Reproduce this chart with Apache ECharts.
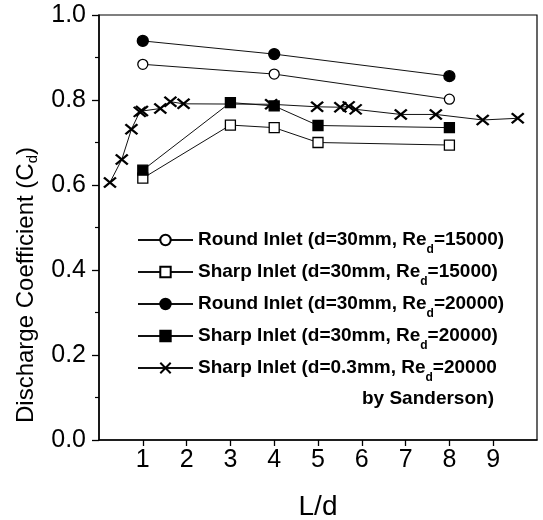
<!DOCTYPE html>
<html>
<head>
<meta charset="utf-8">
<script src="https://cdn.jsdelivr.net/npm/echarts@6/dist/echarts.min.js"></script>
<style>html,body{margin:0;padding:0;background:#fff}#c{width:543px;height:520px}</style>
</head>
<body>
<div id="c"></div>
<script>
// ---- data ----
var xRound = [1, 4, 8];
var round15000 = [0.884, 0.861, 0.802];
var round20000 = [0.939, 0.908, 0.856];
var xSharp = [1, 3, 4, 5, 8];
var sharp15000 = [0.616, 0.741, 0.735, 0.700, 0.694];
var sharp20000 = [0.635, 0.794, 0.786, 0.740, 0.735];
var xSanderson = [0.25, 0.52, 0.74, 0.93, 0.98, 1.40, 1.63, 1.93, 3.93, 4.98, 5.51, 5.70, 5.86, 6.89, 7.69, 8.76, 9.56];
var sanderson = [0.606, 0.660, 0.731, 0.772, 0.774, 0.780, 0.796, 0.791, 0.790, 0.784, 0.783, 0.785, 0.778, 0.766, 0.766, 0.753, 0.757];
var seriesNames = [
  'Round Inlet (d=30mm, Re|=15000)',
  'Sharp Inlet (d=30mm, Re|=15000)',
  'Round Inlet (d=30mm, Re|=20000)',
  'Sharp Inlet (d=30mm, Re|=20000)',
  'Sharp Inlet (d=0.3mm, Re|=20000'
];
var xTicks = [1, 2, 3, 4, 5, 6, 7, 8, 9];
var noteText = 'by Sanderson)';

function pairs(xs, ys) { return xs.map(function (x, i) { return [x, ys[i]]; }); }

var FONT = 'Liberation Sans, Arial, Helvetica, sans-serif';
var crossPath = 'path://M0,0L12,10M12,0L0,10';

function mk(name, data, symbol, size, fill, extra) {
  var s = {
    name: name, type: 'line', data: data, symbol: symbol, symbolSize: size,
    showSymbol: true, animation: false, z: 3,
    lineStyle: { color: '#111', width: 1 },
    itemStyle: { color: fill, borderColor: '#000', borderWidth: 1.3, opacity: 1 }
  };
  if (extra) for (var k in extra) s[k] = extra[k];
  return s;
}

var chart = echarts.init(document.getElementById('c'), null, { renderer: 'canvas' });
chart.setOption({
  backgroundColor: '#fff',
  animation: false,
  grid: { left: 99, right: 6, top: 15, bottom: 80, show: true, borderColor: '#000', borderWidth: 1.2, containLabel: false, outerBoundsMode: 'none' },
  xAxis: {
    type: 'value', min: 0, max: 10, interval: 1,
    name: 'L/d', nameLocation: 'middle', nameGap: 53,
    nameTextStyle: { fontFamily: FONT, fontSize: 28, color: '#000' },
    axisLine: { show: true, lineStyle: { color: '#000', width: 1.5 } },
    axisTick: { show: true, length: 6, inside: false, customValues: xTicks, lineStyle: { color: '#000', width: 1.3 } },
    axisLabel: { customValues: xTicks, fontFamily: FONT, fontSize: 25, color: '#000', margin: 8 },
    splitLine: { show: false }
  },
  yAxis: {
    type: 'value', min: 0, max: 1, interval: 0.2,
    name: '{n|Discharge Coefficient (C}{s|d}{n|)}', nameLocation: 'middle', nameGap: 59, nameRotate: 90,
    nameTextStyle: {
      fontFamily: FONT, color: '#000', padding: [0, 115, 0, 0],
      rich: {
        n: { fontFamily: FONT, fontSize: 24, lineHeight: 27, color: '#000' },
        s: { fontFamily: FONT, fontSize: 15, lineHeight: 16, verticalAlign: 'bottom', color: '#000' }
      }
    },
    axisLine: { show: true, lineStyle: { color: '#000', width: 1.5 } },
    axisTick: { show: true, length: 7, lineStyle: { color: '#000', width: 1.3 } },
    minorTick: { show: true, splitNumber: 2, length: 4, lineStyle: { color: '#000', width: 1.2 } },
    axisLabel: { fontFamily: FONT, fontSize: 25, color: '#000', margin: 13, formatter: function (v) { return v.toFixed(1); } },
    splitLine: { show: false }
  },
  legend: {
    orient: 'vertical', left: 137, top: 224, itemGap: 0, padding: 0,
    itemWidth: 55, itemHeight: 13,
    data: seriesNames,
    formatter: function (name) {
      var p = name.split('|');
      return '{n|' + p[0] + '}{s|d}{n|' + p[1] + '}';
    },
    textStyle: {
      color: '#000', fontFamily: FONT, lineHeight: 32,
      rich: {
        n: { fontFamily: FONT, fontSize: 19, fontWeight: 'bold', lineHeight: 32, color: '#000' },
        s: { fontFamily: FONT, fontSize: 12, fontWeight: 'bold', lineHeight: 20, verticalAlign: 'bottom', color: '#000' }
      }
    }
  },
  graphic: [{
    type: 'text', left: 362, top: 389, z: 10,
    style: { text: noteText, font: 'bold 19px ' + FONT, fill: '#000' }
  }],
  series: [
    mk(seriesNames[0], pairs(xRound, round15000), 'circle', 10, '#fff'),
    mk(seriesNames[1], pairs(xSharp, sharp15000), 'rect', 10, '#fff'),
    mk(seriesNames[2], pairs(xRound, round20000), 'circle', 11, '#000'),
    mk(seriesNames[3], pairs(xSharp, sharp20000), 'rect', 10, '#000'),
    mk(seriesNames[4], pairs(xSanderson, sanderson), crossPath, [12, 10], 'none', { itemStyle: { color: 'none', borderColor: '#000', borderWidth: 2.2 } })
  ]
});
</script>
</body>
</html>
